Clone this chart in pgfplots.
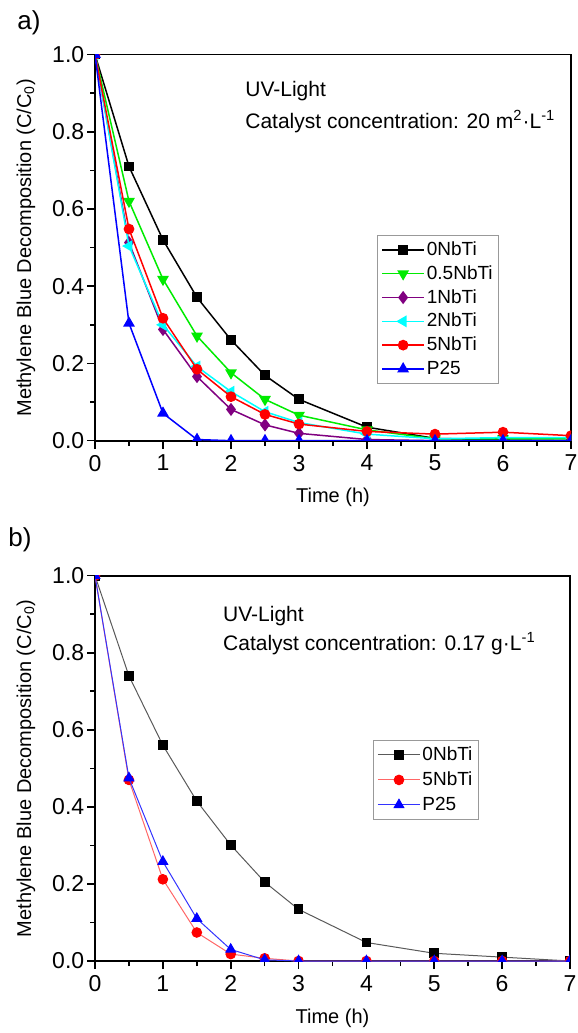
\documentclass[border=0pt]{standalone}
\usepackage{fontspec}
\setmainfont{Liberation Sans}
\usepackage{pgfplots}
\pgfplotsset{compat=1.18}
\definecolor{cgreen}{RGB}{0,235,0}
\definecolor{cpurple}{RGB}{128,0,128}
\definecolor{ccyan}{RGB}{0,255,255}
\definecolor{cred}{RGB}{255,0,0}
\definecolor{cblue}{RGB}{0,0,255}
\pgfplotsset{
  mystyle/.style={
    scale only axis,
    xmin=0, xmax=7, ymin=0, ymax=1,
    xtick={0,1,...,7}, ytick={0,0.2,0.4,0.6,0.8,1.0},
    minor x tick num=1, minor y tick num=1,
    xtick pos=left, ytick pos=left,
    tick align=outside,
    major tick length=4pt, minor tick length=2.5pt,
    every tick/.style={line width=0.8pt, black},
    axis line style={line width=0.9pt},
    tick label style={font=\fontsize{11.5}{13.5}\selectfont},
    /pgf/number format/assume math mode=true,
    y tick label style={/pgf/number format/.cd, fixed, fixed zerofill, precision=1, /tikz/.cd, inner xsep=1.2pt},
    x tick label style={inner ysep=3pt},
    label style={font=\fontsize{11.5}{13.5}\selectfont},
    every axis x label/.style={at={([yshift=-28.5pt]axis description cs:0.5,0)}, anchor=center},
    every axis y label/.style={at={([xshift=-34.5pt]axis description cs:0,0.5)}, anchor=center, rotate=90},
    xlabel={Time (h)},
    ylabel={Methylene Blue Decomposition (C/C\textsubscript{0})},
    clip marker paths=true,
    legend image code/.code={\draw[mark repeat=2,mark phase=2,##1] plot coordinates {(0pt,0pt) (10.5pt,0pt) (21pt,0pt)};},
    legend cell align=left,
  }
}
\begin{document}
\begin{tikzpicture}
\path[use as bounding box] (0,0) rectangle (289pt,516.5pt);
\node[anchor=base west, font=\fontsize{13}{15}\selectfont, inner sep=0pt] at (8.5pt,501.5pt) {a)};
\node[anchor=base west, font=\fontsize{13}{15}\selectfont, inner sep=0pt] at (4pt,243.2pt) {b)};
% ---------------- (a)
\begin{axis}[mystyle,
  at={(47.5pt,296.15pt)}, anchor=south west,
  width=238pt, height=193.1pt,
  legend style={at={(0.592,0.533)}, anchor=north west, draw=gray!80, line width=0.6pt,
    font=\fontsize{9.5}{11}\selectfont, inner xsep=2pt, inner ysep=2pt,
    nodes={inner sep=1pt, text height=7pt, text depth=1.5pt}, row sep=1.4pt},
  every axis plot/.append style={line width=0.75pt},
]
\addplot[black, mark=square*, mark size=2.1pt] table {
0 1.0
0.5 0.71
1 0.52
1.5 0.371
2 0.261
2.5 0.169
3 0.107
4 0.035
5 0.006
6 0.002
7 0.0
};
\addlegendentry{0NbTi}
\addplot[cgreen, mark=triangle*, mark options={rotate=180}, mark size=2.7pt] table {
0 1.0
0.5 0.62
1 0.418
1.5 0.271
2 0.176
2.5 0.107
3 0.066
4 0.028
5 0.005
6 0.005
7 0.005
};
\addlegendentry{0.5NbTi}
\addplot[cpurple, mark=diamond*, mark size=2.7pt] table {
0 1.0
0.5 0.513
1 0.288
1.5 0.166
2 0.081
2.5 0.041
3 0.019
4 0.003
5 0.0
6 0.0
7 0.0
};
\addlegendentry{1NbTi}
\addplot[ccyan, mark=triangle*, mark options={rotate=90}, mark size=2.7pt] table {
0 1.0
0.5 0.504
1 0.30
1.5 0.192
2 0.127
2.5 0.075
3 0.047
4 0.017
5 0.005
6 0.008
7 0.008
};
\addlegendentry{2NbTi}
\addplot[cred, mark=*, mark size=2.3pt] table {
0 1.0
0.5 0.548
1 0.317
1.5 0.185
2 0.114
2.5 0.068
3 0.043
4 0.024
5 0.017
6 0.022
7 0.013
};
\addlegendentry{5NbTi}
\addplot[cblue, mark=triangle*, mark size=2.7pt] table {
0 1.0
0.5 0.304
1 0.071
1.5 0.003
2 0.0
2.5 0.0
3 0.0
4 0.0
5 0.0
6 0.0
7 0.0
};
\addlegendentry{P25}
\node[anchor=base west, font=\fontsize{10.5}{12}\selectfont, inner sep=0pt] at (rel axis cs:0.315,0.891) {UV-Light};
\node[anchor=base west, font=\fontsize{10.5}{12}\selectfont, inner sep=0pt] at (rel axis cs:0.315,0.809) {Catalyst concentration: 20 m\textsuperscript{2}·L\textsuperscript{-1}};
\end{axis}
% ---------------- (b)
\begin{axis}[mystyle,
  at={(47.5pt,36pt)}, anchor=south west,
  width=237.5pt, height=192.65pt,
  legend style={at={(0.585,0.574)}, anchor=north west, draw=gray!80, line width=0.6pt,
    font=\fontsize{9.5}{11}\selectfont, inner xsep=2pt, inner ysep=2pt,
    nodes={inner sep=1pt, text height=7pt, text depth=1.5pt}, row sep=2pt},
  every axis plot/.append style={line width=0.5pt},
]
\addplot[black!65, mark=square*, mark size=2.2pt, mark options={black}] table {
0 1.0
0.5 0.740
1 0.560
1.5 0.415
2 0.301
2.5 0.205
3 0.134
4 0.048
5 0.020
6 0.010
7 0.0
};
\addlegendentry{0NbTi}
\addplot[cred!60, mark=*, mark size=2.4pt, mark options={cred}] table {
0 1.0
0.5 0.47
1 0.212
1.5 0.074
2 0.018
2.5 0.007
3 0.0
4 0.0
5 0.0
6 0.0
7 0.0
};
\addlegendentry{5NbTi}
\addplot[cblue!80, mark=triangle*, mark size=2.8pt, mark options={cblue}] table {
0 1.0
0.5 0.475
1 0.258
1.5 0.110
2 0.030
2.5 0.003
3 0.0
4 0.0
5 0.0
6 0.0
7 0.0
};
\addlegendentry{P25}
\node[anchor=base west, font=\fontsize{10.5}{12}\selectfont, inner sep=0pt] at (rel axis cs:0.269,0.881) {UV-Light};
\node[anchor=base west, font=\fontsize{10.5}{12}\selectfont, inner sep=0pt] at (rel axis cs:0.269,0.807) {Catalyst concentration: 0.17 g·L\textsuperscript{-1}};
\end{axis}
\end{tikzpicture}
\end{document}
